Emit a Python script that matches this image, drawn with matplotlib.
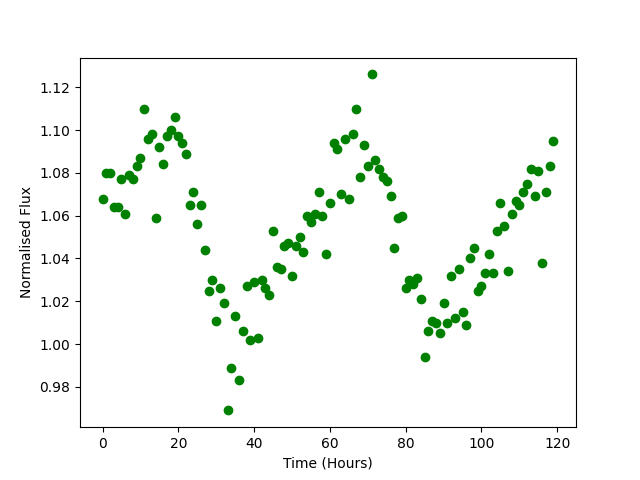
import matplotlib
matplotlib.use("Agg")
import matplotlib.pyplot as plt

# hourly normalised flux readings
hours = list(range(120))
flux = [
  1.068, 1.080, 1.080, 1.064, 1.064, 1.077, 1.061, 1.079, 1.077, 1.083,
  1.087, 1.110, 1.096, 1.098, 1.059, 1.092, 1.084, 1.097, 1.100, 1.106,
  1.097, 1.094, 1.089, 1.065, 1.071, 1.056, 1.065, 1.044, 1.025, 1.030,
  1.011, 1.026, 1.019, 0.969, 0.989, 1.013, 0.983, 1.006, 1.027, 1.002,
  1.029, 1.003, 1.030, 1.026, 1.023, 1.053, 1.036, 1.035, 1.046, 1.047,
  1.032, 1.046, 1.050, 1.043, 1.060, 1.057, 1.061, 1.071, 1.060, 1.042,
  1.066, 1.094, 1.091, 1.070, 1.096, 1.068, 1.098, 1.110, 1.078, 1.093,
  1.083, 1.126, 1.086, 1.082, 1.078, 1.076, 1.069, 1.045, 1.059, 1.060,
  1.026, 1.030, 1.028, 1.031, 1.021, 0.994, 1.006, 1.011, 1.010, 1.005,
  1.019, 1.010, 1.032, 1.012, 1.035, 1.015, 1.009, 1.040, 1.045, 1.025,
  1.027, 1.033, 1.042, 1.033, 1.053, 1.066, 1.055, 1.034, 1.061, 1.067,
  1.065, 1.071, 1.075, 1.082, 1.069, 1.081, 1.038, 1.071, 1.083, 1.095,
]

fig = plt.figure(figsize=(6.4, 4.8), dpi=100)
ax = fig.gca()
ax.plot(hours, flux, 'go')
ax.set_xlabel("Time (Hours)")
ax.set_ylabel("Normalised Flux")

fig.savefig("out.png")
